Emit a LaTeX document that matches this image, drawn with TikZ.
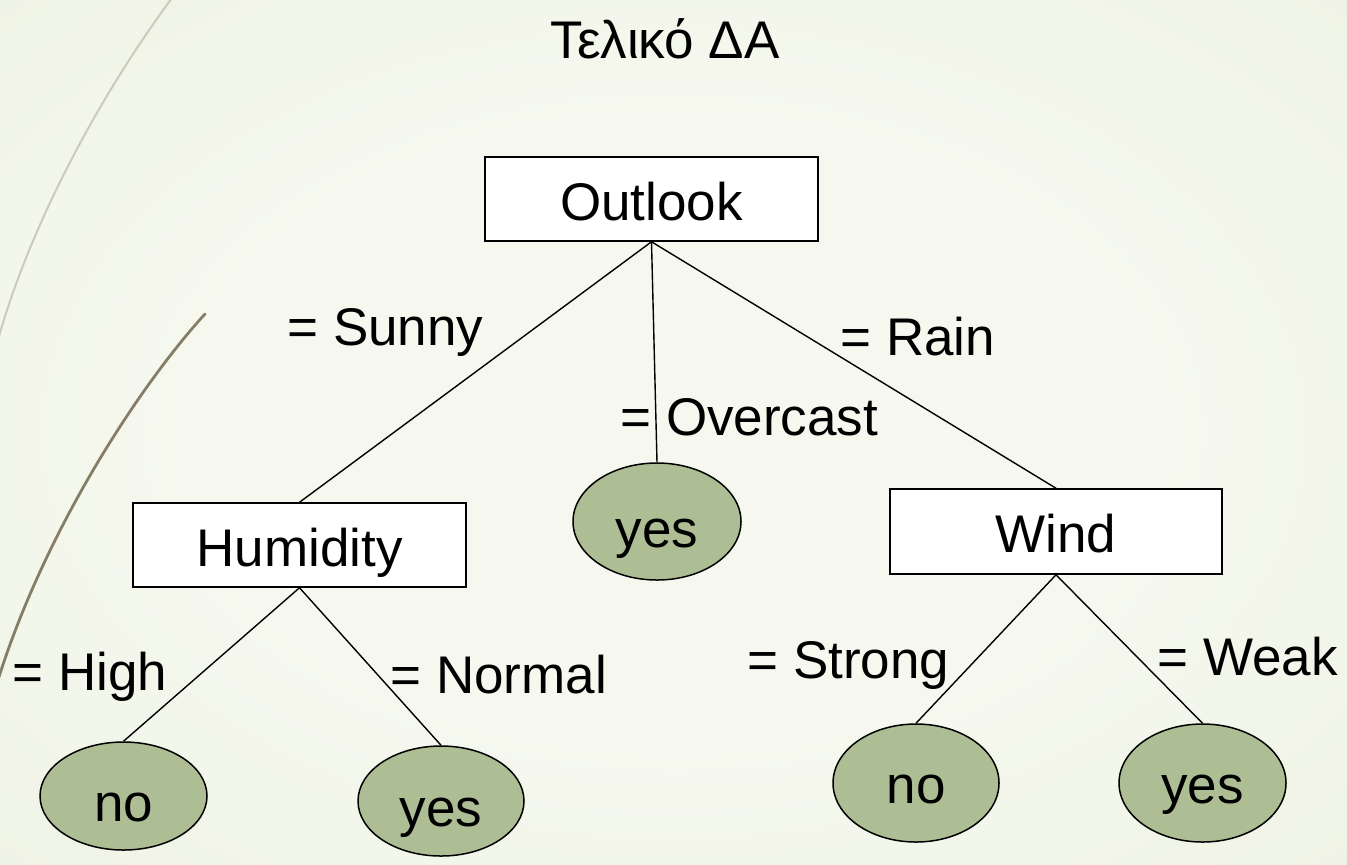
\documentclass[tikz,border=0pt]{standalone}
\usepackage{fontspec}
\setmainfont{Liberation Sans}
\usetikzlibrary{shapes.geometric}
\definecolor{bgin}{HTML}{F6F8EF}
\definecolor{bgout}{HTML}{E1E9CF}
\definecolor{leaf}{HTML}{ADBE94}
\definecolor{arcdark}{HTML}{857E66}
\definecolor{arclight}{HTML}{CACBBC}
\pgfdeclareradialshading{bgshade}{\pgfpoint{0bp}{0bp}}{color(0bp)=(bgin); color(18bp)=(bgin); color(72bp)=(bgout)}
\tikzset{
  lbl/.style={font=\fontsize{26.5pt}{30pt}\selectfont, anchor=base west, inner sep=0pt},
  attrbox/.style={draw=black, line width=0.75pt, fill=white, rectangle, inner sep=0pt,
    font=\fontsize{26.5pt}{30pt}\selectfont, text depth=0pt},
  leafnode/.style={draw=black, line width=0.75pt, fill=leaf, ellipse, inner sep=0pt,
    font=\fontsize{26.5pt}{30pt}\selectfont, text depth=0pt},
  conn/.style={draw=black, line width=0.7pt}
}
\begin{document}
\begin{tikzpicture}[x=0.5pt, y=-0.5pt]
\useasboundingbox (0,0) rectangle (1347,864);
\shade[shading=bgshade] (0,0) rectangle (1347,864);
% decorative arcs
\draw[arclight, line width=1pt] (172,-2) .. controls (100,95) and (30,225) .. (-2,340);
\draw[arcdark, line width=1.4pt, line cap=round] (205,314) .. controls (140,385) and (45,530) .. (-2,680);
% title
\node[font=\fontsize{26.5pt}{30pt}\selectfont, anchor=base west, inner sep=0pt] (title) at (550,58) {Τελικό ΔΑ};
% nodes
\node[attrbox, text height=21pt, minimum width=166.5pt, minimum height=42pt] (outlook) at (651.5,199) {Outlook};
\node[attrbox, text height=21pt, minimum width=166.5pt, minimum height=42pt] (hum) at (299.5,545) {Humidity};
\node[attrbox, text height=20.5pt, minimum width=166pt, minimum height=42.5pt] (wind) at (1056,531.5) {Wind};
\node[leafnode, text height=26pt, minimum width=84pt, minimum height=58.5pt] (yes1) at (657,521.5) {yes};
\node[leafnode, text height=25pt, minimum width=83.5pt, minimum height=54pt] (no1) at (123.5,796) {no};
\node[leafnode, text height=25pt, minimum width=83pt, minimum height=55pt] (yes2) at (441,801) {yes};
\node[leafnode, text height=20pt, minimum width=83pt, minimum height=59pt] (no2) at (916,783) {no};
\node[leafnode, text height=20pt, minimum width=83.5pt, minimum height=59pt] (yes3) at (1202.5,783) {yes};
% edges
\draw[conn] (outlook.south) -- (hum.north);
\draw[conn] (outlook.south) -- (yes1.north);
\draw[conn] (outlook.south) -- (wind.north);
\draw[conn] (hum.south) -- (no1.north);
\draw[conn] (hum.south) -- (yes2.north);
\draw[conn] (wind.south) -- (no2.north);
\draw[conn] (wind.south) -- (yes3.north);
% labels
\node[lbl] (lsunny) at (287,345) {= Sunny};
\node[lbl] (lover) at (620,435) {= Overcast};
\node[lbl] (lrain) at (840,355) {= Rain};
\node[lbl] (lhigh) at (12,690) {= High};
\node[lbl] (lnormal) at (390,693) {= Normal};
\node[lbl] (lstrong) at (747,678) {= Strong};
\node[lbl] (lweak) at (1157,675) {= Weak};
\end{tikzpicture}
\end{document}
